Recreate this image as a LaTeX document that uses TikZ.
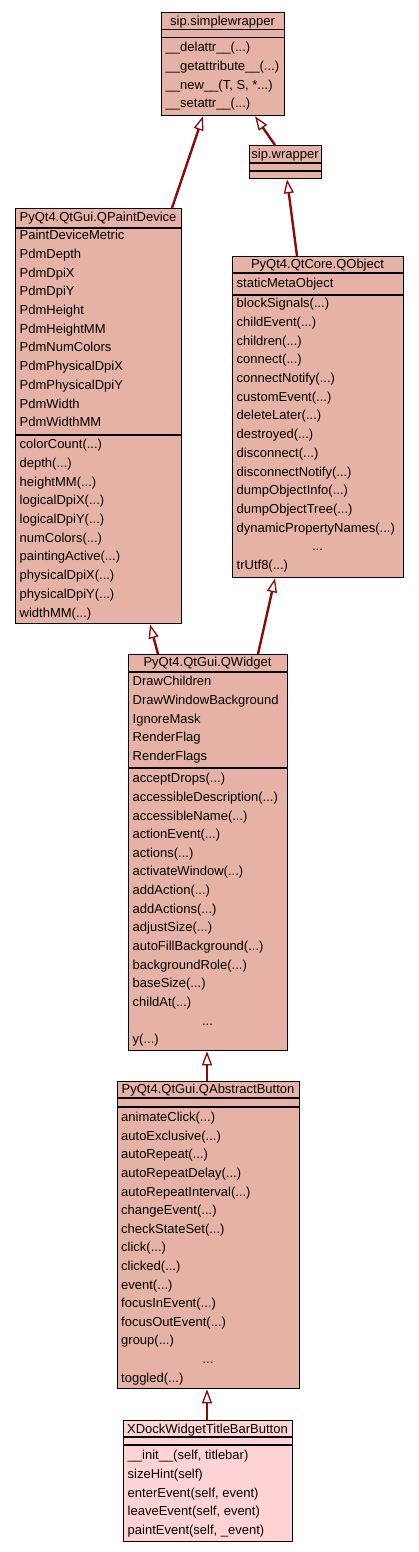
\documentclass[tikz,border=0pt]{standalone}
\usepackage{fontspec}
\setmainfont{Liberation Sans}
\usetikzlibrary{arrows.meta}

\definecolor{classfill}{HTML}{E5B2A5}
\definecolor{leaffill}{HTML}{FFD3D3}
\definecolor{edgered}{HTML}{8B0A0A}

\newcommand{\threedots}{...}

\tikzstyle{classbox}=[draw=black,line width=1.3pt,fill=classfill,anchor=north west,inner sep=0pt]
\tikzstyle{ctitle}=[anchor=base,inner sep=0pt]
\tikzstyle{member}=[anchor=base west,inner sep=0pt]
\tikzstyle{sep}=[draw=black,line width=1.3pt]
\tikzstyle{inherit}=[draw=edgered,line width=2.4pt,-{Triangle[fill=white,length=14pt,width=10pt,line width=1.3pt]}]

\begin{document}
\begin{tikzpicture}[x=1pt,y=-1pt,font=\fontsize{13}{15}\selectfont]
    \useasboundingbox (0,0) rectangle (419,1552);

    % class boxes
    \node[classbox,minimum width=123pt,minimum height=103pt] (sw) at (161,12) {};
    \node[classbox,minimum width=72pt,minimum height=33pt] (wr) at (249,145) {};
    \node[classbox,minimum width=166pt,minimum height=415pt] (qpd) at (15,208) {};
    \node[classbox,minimum width=171pt,minimum height=321pt] (qo) at (232,256) {};
    \node[classbox,minimum width=159pt,minimum height=396pt] (qw) at (128,654) {};
    \node[classbox,minimum width=182pt,minimum height=307pt] (qab) at (117,1081) {};
    \node[classbox,fill=leaffill,minimum width=169pt,minimum height=121pt] (xd) at (123,1420) {};

    % compartments
    \draw[sep] ([yshift=-17.5pt]sw.north west) -- ([yshift=-17.5pt]sw.north east);
    \draw[sep] ([yshift=-25.5pt]sw.north west) -- ([yshift=-25.5pt]sw.north east);
    \draw[sep] ([yshift=-18pt]wr.north west) -- ([yshift=-18pt]wr.north east);
    \draw[sep] ([yshift=-26pt]wr.north west) -- ([yshift=-26pt]wr.north east);
    \draw[sep] ([yshift=-20pt]qpd.north west) -- ([yshift=-20pt]qpd.north east);
    \draw[sep] ([yshift=-227pt]qpd.north west) -- ([yshift=-227pt]qpd.north east);
    \draw[sep] ([yshift=-17pt]qo.north west) -- ([yshift=-17pt]qo.north east);
    \draw[sep] ([yshift=-39pt]qo.north west) -- ([yshift=-39pt]qo.north east);
    \draw[sep] ([yshift=-18pt]qw.north west) -- ([yshift=-18pt]qw.north east);
    \draw[sep] ([yshift=-114pt]qw.north west) -- ([yshift=-114pt]qw.north east);
    \draw[sep] ([yshift=-17pt]qab.north west) -- ([yshift=-17pt]qab.north east);
    \draw[sep] ([yshift=-26pt]qab.north west) -- ([yshift=-26pt]qab.north east);
    \draw[sep] ([yshift=-17pt]xd.north west) -- ([yshift=-17pt]xd.north east);
    \draw[sep] ([yshift=-25pt]xd.north west) -- ([yshift=-25pt]xd.north east);

    % titles
    \node[ctitle] (sw-t) at (222.5,25.3) {sip.simplewrapper};
    \node[ctitle] (wr-t) at (285,158.5) {sip.wrapper};
    \node[ctitle] (qpd-t) at (98,221.5) {PyQt4.QtGui.QPaintDevice};
    \node[ctitle] (qo-t) at (317.5,268) {PyQt4.QtCore.QObject};
    \node[ctitle] (qw-t) at (207.5,666.5) {PyQt4.QtGui.QWidget};
    \node[ctitle] (qab-t) at (208,1093) {PyQt4.QtGui.QAbstractButton};
    \node[ctitle] (xd-t) at (207.5,1433) {XDockWidgetTitleBarButton};

    % members
    \foreach \t [count=\i from 0] in {{\_\_delattr\_\_(\threedots)},{\_\_getattribute\_\_(\threedots)},{\_\_new\_\_(T, S, *\threedots)},{\_\_setattr\_\_(\threedots)}}
        \node[member] (sw-m\i) at (165.5,{51.7+\i*18.67}) {\t};

    \foreach \t [count=\i from 0] in {PaintDeviceMetric,PdmDepth,PdmDpiX,PdmDpiY,PdmHeight,PdmHeightMM,PdmNumColors,PdmPhysicalDpiX,PdmPhysicalDpiY,PdmWidth,PdmWidthMM}
        \node[member] (qpd-a\i) at (19.5,{239.7+\i*18.7}) {\t};
    \foreach \t [count=\i from 0] in {colorCount(\threedots),depth(\threedots),heightMM(\threedots),logicalDpiX(\threedots),logicalDpiY(\threedots),numColors(\threedots),paintingActive(\threedots),physicalDpiX(\threedots),physicalDpiY(\threedots),widthMM(\threedots)}
        \node[member] (qpd-m\i) at (19.5,{448.7+\i*18.7}) {\t};

    \node[member] (qo-a0) at (236.5,287.7) {staticMetaObject};
    \foreach \t [count=\i from 0] in {blockSignals(\threedots),childEvent(\threedots),children(\threedots),connect(\threedots),connectNotify(\threedots),customEvent(\threedots),deleteLater(\threedots),destroyed(\threedots),disconnect(\threedots),disconnectNotify(\threedots),dumpObjectInfo(\threedots),dumpObjectTree(\threedots),dynamicPropertyNames(\threedots)}
        \node[member] (qo-m\i) at (236.5,{307.7+\i*18.7}) {\t};
    \node[ctitle] (qo-more) at (317.5,550.8) {...};
    \node[member] (qo-last) at (236.5,569.5) {trUtf8(...)};

    \foreach \t [count=\i from 0] in {DrawChildren,DrawWindowBackground,IgnoreMask,RenderFlag,RenderFlags}
        \node[member] (qw-a\i) at (132.5,{685.7+\i*18.65}) {\t};
    \foreach \t [count=\i from 0] in {acceptDrops(\threedots),accessibleDescription(\threedots),accessibleName(\threedots),actionEvent(\threedots),actions(\threedots),activateWindow(\threedots),addAction(\threedots),addActions(\threedots),adjustSize(\threedots),autoFillBackground(\threedots),backgroundRole(\threedots),baseSize(\threedots),childAt(\threedots)}
        \node[member] (qw-m\i) at (132.5,{782.7+\i*18.65}) {\t};
    \node[ctitle] (qw-more) at (207.5,1025) {...};
    \node[member] (qw-last) at (132.5,1043.5) {y(...)};

    \foreach \t [count=\i from 0] in {animateClick(\threedots),autoExclusive(\threedots),autoRepeat(\threedots),autoRepeatDelay(\threedots),autoRepeatInterval(\threedots),changeEvent(\threedots),checkStateSet(\threedots),click(\threedots),clicked(\threedots),event(\threedots),focusInEvent(\threedots),focusOutEvent(\threedots),group(\threedots)}
        \node[member] (qab-m\i) at (121,{1121.7+\i*18.6}) {\t};
    \node[ctitle] (qab-more) at (208,1363.5) {...};
    \node[member] (qab-last) at (121,1382) {toggled(...)};

    \foreach \t [count=\i from 0] in {{\_\_init\_\_(self, titlebar)},sizeHint(self),{enterEvent(self, event)},{leaveEvent(self, event)},{paintEvent(self, \_event)}}
        \node[member] (xd-m\i) at (127.5,{1459.7+\i*18.75}) {\t};

    % inheritance
    \draw[inherit] ([xshift=157pt]qpd.north west) -- ([xshift=42pt]sw.south west);
    \draw[inherit] ([xshift=26pt]wr.north west) -- ([xshift=94pt]sw.south west);
    \draw[inherit] ([xshift=65pt]qo.north west) -- ([xshift=38pt]wr.south west);
    \draw[inherit] ([xshift=30pt]qw.north west) -- ([xshift=135pt]qpd.south west);
    \draw[inherit] ([xshift=130pt]qw.north west) -- ([xshift=43pt]qo.south west);
    \draw[inherit] ([xshift=90pt]qab.north west) -- ([xshift=79pt]qw.south west);
    \draw[inherit] ([xshift=84pt]xd.north west) -- ([xshift=90pt]qab.south west);
\end{tikzpicture}
\end{document}
